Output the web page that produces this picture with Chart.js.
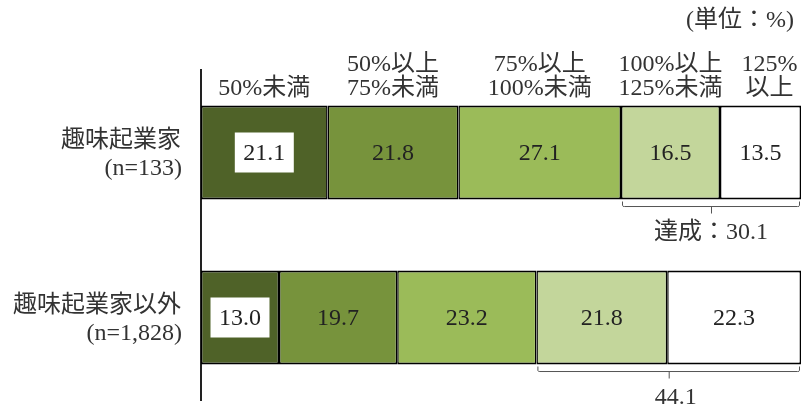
<!DOCTYPE html>
<html lang="ja">
<head>
<meta charset="utf-8">
<title>目標達成度</title>
<script src="https://cdn.jsdelivr.net/npm/chart.js@4.4.1/dist/chart.umd.min.js"></script>
<style>
  body { margin: 0; background: #fff; }
  #wrap { width: 805px; height: 411px; position: relative; }
</style>
</head>
<body>
<div id="wrap"><canvas id="chart"></canvas></div>
<script>
// カテゴリと系列
var categories = [['趣味起業家', '(n=133)'], ['趣味起業家以外', '(n=1,828)']];
var seriesNames = ['50%未満', '50%以上75%未満', '75%以上100%未満', '100%以上125%未満', '125%以上'];
var headerLines = [['50%未満'], ['50%以上', '75%未満'], ['75%以上', '100%未満'], ['100%以上', '125%未満'], ['125%', '以上']];

var under50 = [21.1, 13.0];
var from50to75 = [21.8, 19.7];
var from75to100 = [27.1, 23.2];
var from100to125 = [16.5, 21.8];
var over125 = [13.5, 22.3];

var achievedLabels = ['達成：30.1', '44.1'];
var unitLabel = '(単位：%)';

var colors = ['#4F6228', '#77933C', '#9BBB59', '#C3D69B', '#FFFFFF'];
var FONT = '"Liberation Serif", "Noto Sans CJK JP", serif';

var values = [under50, from50to75, from75to100, from100to125, over125];
var datasets = values.map(function (v, i) {
    return {
        label: seriesNames[i],
        data: v,
        backgroundColor: colors[i],
        borderColor: '#000',
        borderWidth: { top: 2, bottom: 2, left: 1.5, right: 1.5 },
        borderSkipped: false,
        barPercentage: 0.57,
        categoryPercentage: 1.0
    };
});

// 数値ラベル・見出し・カテゴリ名・達成の括弧
var annotate = {
    id: 'annotate',
    afterDatasetsDraw: function (chart) {
        var ctx = chart.ctx;
        var yScale = chart.scales.y;
        ctx.save();
        ctx.font = '24px ' + FONT;
        ctx.textAlign = 'center';
        ctx.textBaseline = 'middle';

        // 各セグメントの数値
        chart.data.datasets.forEach(function (ds, di) {
            chart.getDatasetMeta(di).data.forEach(function (bar, i) {
                var cx = (bar.x + bar.base) / 2;
                var txt = ds.data[i].toFixed(1);
                if (di === 0) {
                    var w = ctx.measureText(txt).width + 17;
                    ctx.fillStyle = '#fff';
                    ctx.fillRect(cx - w / 2, bar.y - 20, w, 40);
                }
                ctx.fillStyle = '#222';
                ctx.fillText(txt, cx, bar.y + 1);
            });
        });

        // 上部の区分見出し
        ctx.fillStyle = '#333';
        headerLines.forEach(function (lines, di) {
            var bar = chart.getDatasetMeta(di).data[0];
            var cx = (bar.x + bar.base) / 2 + (di === 4 ? 9 : 0);
            var top = bar.y - bar.height / 2;
            lines.forEach(function (line, li) {
                var y = top - 17 - (lines.length - 1 - li) * 24;
                ctx.fillText(line, cx, y);
            });
        });

        // カテゴリ名
        ctx.textAlign = 'right';
        categories.forEach(function (lines, i) {
            var cy = yScale.getPixelForValue(i);
            ctx.fillText(lines[0], 181, cy - 12);
            ctx.fillText(lines[1], 182, cy + 16);
        });

        // 達成（100%以上）の括弧
        ctx.textAlign = 'center';
        ctx.strokeStyle = '#555';
        ctx.lineWidth = 1;
        var m3 = chart.getDatasetMeta(3).data;
        var m4 = chart.getDatasetMeta(4).data;
        m3.forEach(function (bar, i) {
            var x0 = bar.base + 1.5;
            var x1 = m4[i].x - 1.5;
            var yb = bar.y + bar.height / 2;
            var ym = yb + 7;
            var mid = (x0 + x1) / 2;
            ctx.beginPath();
            ctx.moveTo(x0, yb + 2);
            ctx.lineTo(x0, ym - 1);
            ctx.quadraticCurveTo(x0, ym, x0 + 2, ym);
            ctx.lineTo(x1 - 2, ym);
            ctx.quadraticCurveTo(x1, ym, x1, ym - 1);
            ctx.lineTo(x1, yb + 2);
            ctx.moveTo(mid + 0.5, ym);
            ctx.lineTo(mid + 0.5, ym + 7);
            ctx.stroke();
            ctx.fillStyle = '#333';
            ctx.fillText(achievedLabels[i], mid + (i === 1 ? 7 : 0), yb + 33);
        });

        // 単位
        ctx.textAlign = 'right';
        ctx.fillText(unitLabel, 794, 21);
        ctx.restore();
    }
};

new Chart(document.getElementById('chart').getContext('2d'), {
    type: 'bar',
    data: { labels: categories, datasets: datasets },
    options: {
        indexAxis: 'y',
        responsive: true,
        maintainAspectRatio: false,
        animation: false,
        layout: { padding: { top: 70, bottom: 11, left: 0, right: 4 } },
        plugins: {
            legend: { display: false },
            tooltip: { enabled: false }
        },
        scales: {
            x: { stacked: true, min: 0, max: 100, display: false },
            y: {
                stacked: true,
                grid: { display: false, drawTicks: false },
                border: { display: true, color: '#222', width: 2 },
                ticks: { display: false },
                afterFit: function (scale) { scale.width = 201; }
            }
        }
    },
    plugins: [annotate]
});
</script>
</body>
</html>
